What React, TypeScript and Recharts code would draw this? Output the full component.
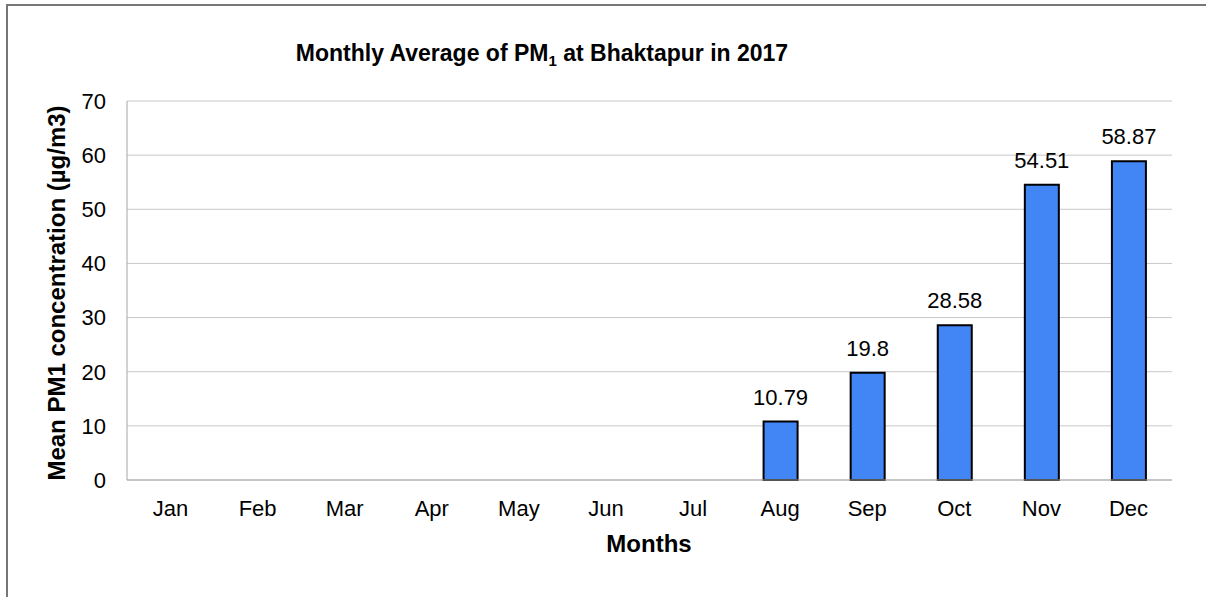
import { Bar, BarChart, CartesianGrid, LabelList, XAxis, YAxis } from 'recharts'

// monthly means of PM1 at Bhaktapur, 2017 (no data before August)
const MONTHS = ['Jan', 'Feb', 'Mar', 'Apr', 'May', 'Jun', 'Jul', 'Aug', 'Sep', 'Oct', 'Nov', 'Dec']
const PM1 = [null, null, null, null, null, null, null, 10.79, 19.8, 28.58, 54.51, 58.87]
const Y_TICKS = [0, 10, 20, 30, 40, 50, 60, 70]

const DATA = MONTHS.map((month, i) => ({ month, pm1: PM1[i] }))

const FONT = '"Liberation Sans", Arial, sans-serif'

export default function App() {
  return (
    <div
      style={{
        position: 'absolute',
        left: 0,
        top: 0,
        width: 1206,
        height: 597,
        overflow: 'hidden',
        background: '#fff',
        fontFamily: FONT,
        color: '#000',
      }}
    >
      {/* frame of the original chart area, only left and top edges show */}
      <div
        style={{
          position: 'absolute',
          left: 6,
          top: 4,
          width: 1400,
          height: 800,
          border: '2px solid #777',
        }}
      />

      <div
        style={{
          position: 'absolute',
          left: 142,
          top: 42,
          width: 800,
          textAlign: 'center',
          fontSize: 23,
          fontWeight: 'bold',
          lineHeight: '23px',
        }}
      >
        Monthly Average of PM
        <span style={{ fontSize: 15, verticalAlign: -5, lineHeight: 0 }}>1</span> at Bhaktapur in 2017
      </div>

      <div
        style={{
          position: 'absolute',
          left: -193,
          top: 281,
          width: 500,
          height: 24,
          lineHeight: '24px',
          textAlign: 'center',
          fontSize: 24,
          fontWeight: 'bold',
          transform: 'rotate(-90deg)',
        }}
      >
        Mean PM1 concentration (µg/m3)
      </div>

      <div
        style={{
          position: 'absolute',
          left: 549,
          top: 532,
          width: 200,
          lineHeight: '24px',
          textAlign: 'center',
          fontSize: 24,
          fontWeight: 'bold',
        }}
      >
        Months
      </div>

      <div style={{ position: 'absolute', left: 0, top: 0 }}>
        <BarChart
          width={1206}
          height={597}
          data={DATA}
          margin={{ top: 101, right: 34, bottom: 87, left: 67 }}
          style={{ fontFamily: FONT }}
        >
          <CartesianGrid vertical={false} stroke="#c8c8c8" />
          <XAxis
            dataKey="month"
            height={30}
            interval={0}
            axisLine={{ stroke: '#a6a6a6' }}
            tickLine={false}
            tickSize={0}
            tickMargin={20}
            tick={{ fill: '#000', fontSize: 22 }}
          />
          <YAxis
            type="number"
            width={60}
            domain={[0, 70]}
            ticks={Y_TICKS}
            interval={0}
            axisLine={{ stroke: '#a6a6a6' }}
            tickLine={false}
            tickSize={0}
            tickMargin={21}
            tick={{ fill: '#000', fontSize: 22 }}
          />
          <Bar
            dataKey="pm1"
            fill="#4285F4"
            stroke="#000"
            strokeWidth={2}
            barSize={34}
            isAnimationActive={false}
          >
            <LabelList dataKey="pm1" position="top" offset={17} fill="#000" fontSize={22} />
          </Bar>
        </BarChart>
      </div>
    </div>
  )
}
